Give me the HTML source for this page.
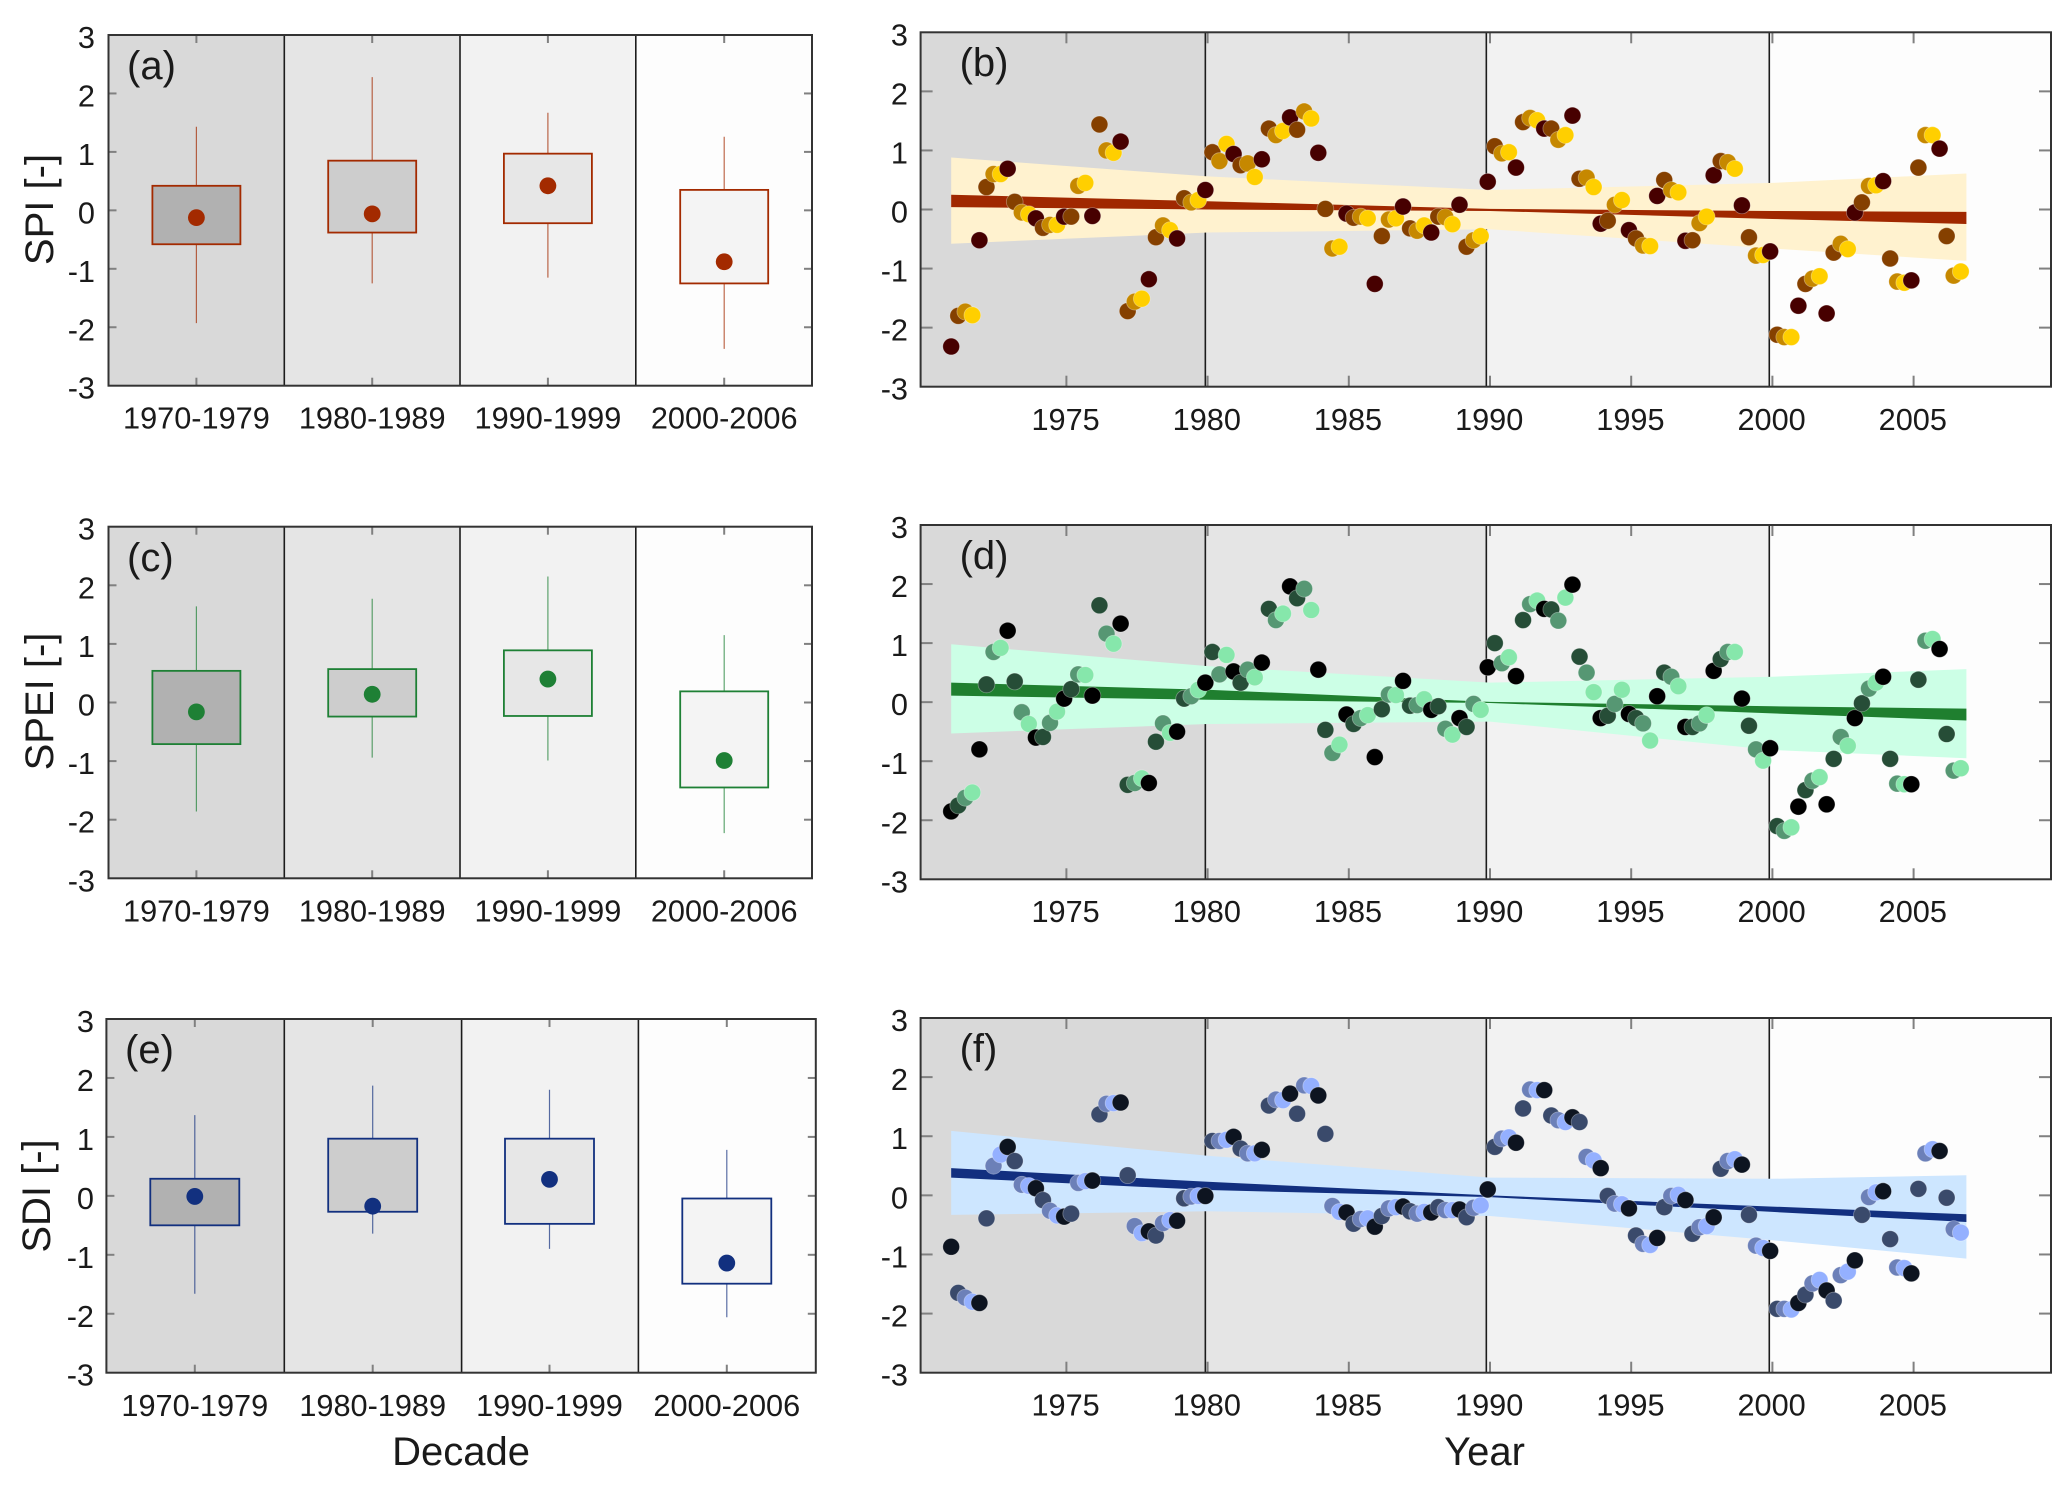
<!DOCTYPE html>
<html lang="en">
<head>
<meta charset="utf-8">
<title>SPI, SPEI and SDI by decade and year</title>
<style>
html,body{margin:0;padding:0;background:#fff;}
svg{display:block;font-family:"Liberation Sans",Arial,sans-serif;}
text{fill:#1a1a1a;}
</style>
</head>
<body>
<svg id="chart" xmlns="http://www.w3.org/2000/svg" width="2067" height="1486" viewBox="0 0 2067 1486"></svg>
<script>
// ---------- shared categories and tick labels ----------
const decadeLabels = ['1970-1979', '1980-1989', '1990-1999', '2000-2006'];
const yTickValues = [3, 2, 1, 0, -1, -2, -3];
const yearTickValues = [1975, 1980, 1985, 1990, 1995, 2000, 2005];
const dividerYears = [1979.92, 1989.87, 1999.89];
const firstSampleYear = 1970.92;
const sampleStepYears = 0.25;
const bandYears = [1970.92, 1980, 1990, 2000, 2006.87];

// ---------- decade box statistics ----------
const spiQ3 = [0.42, 0.85, 0.97, 0.35];
const spiQ1 = [-0.58, -0.38, -0.22, -1.25];
const spiMax = [1.43, 2.28, 1.67, 1.26];
const spiMin = [-1.93, -1.25, -1.15, -2.37];
const spiMean = [-0.125, -0.06, 0.42, -0.88];

const speiQ3 = [0.54, 0.57, 0.89, 0.19];
const speiQ1 = [-0.71, -0.24, -0.23, -1.45];
const speiMax = [1.64, 1.77, 2.15, 1.15];
const speiMin = [-1.86, -0.94, -0.99, -2.23];
const speiMean = [-0.16, 0.14, 0.40, -0.99];

const sdiQ3 = [0.29, 0.97, 0.97, -0.045];
const sdiQ1 = [-0.50, -0.27, -0.475, -1.49];
const sdiMax = [1.37, 1.87, 1.80, 0.78];
const sdiMin = [-1.66, -0.64, -0.90, -2.06];
const sdiMean = [-0.01, -0.175, 0.28, -1.14];

// ---------- quarterly series (four values per year, 1971-2006) ----------
const spiSeries = [
-2.32,-1.80,-1.73,-1.79, -0.52,0.38,0.60,0.60, 0.69,0.13,-0.05,-0.08, -0.15,-0.31,-0.26,-0.26,
-0.12,-0.12,0.40,0.45, -0.11,1.44,1.00,0.96, 1.15,-1.72,-1.56,-1.51, -1.18,-0.47,-0.27,-0.35,
-0.49,0.19,0.12,0.16, 0.33,0.97,0.82,1.11, 0.94,0.75,0.78,0.55, 0.85,1.37,1.26,1.33,
1.56,1.35,1.66,1.54, 0.96,0.01,-0.66,-0.63, -0.07,-0.14,-0.12,-0.15, -1.26,-0.45,-0.17,-0.15,
0.05,-0.32,-0.36,-0.27, -0.39,-0.12,-0.13,-0.25, 0.08,-0.63,-0.52,-0.45, 0.47,1.07,0.95,0.97,
0.71,1.48,1.55,1.51, 1.37,1.37,1.18,1.26, 1.59,0.52,0.54,0.38, -0.24,-0.19,0.08,0.16,
-0.35,-0.49,-0.61,-0.62, 0.23,0.50,0.33,0.29, -0.53,-0.52,-0.23,-0.12, 0.58,0.82,0.80,0.69,
0.07,-0.47,-0.78,-0.77, -0.71,-2.12,-2.16,-2.16, -1.63,-1.26,-1.17,-1.13, -1.76,-0.73,-0.58,-0.67,
-0.05,0.12,0.40,0.41, 0.48,-0.83,-1.22,-1.24, -1.20,0.71,1.26,1.26, 1.03,-0.45,-1.12,-1.05];

const speiSeries = [
-1.85,-1.75,-1.62,-1.53, -0.80,0.30,0.85,0.92, 1.21,0.35,-0.17,-0.37, -0.60,-0.59,-0.35,-0.16,
0.06,0.22,0.47,0.46, 0.11,1.64,1.16,0.99, 1.33,-1.40,-1.37,-1.29, -1.37,-0.67,-0.36,-0.52,
-0.50,0.06,0.10,0.21, 0.33,0.85,0.47,0.80, 0.52,0.33,0.55,0.42, 0.67,1.58,1.39,1.50,
1.96,1.76,1.92,1.56, 0.55,-0.47,-0.86,-0.72, -0.21,-0.37,-0.27,-0.22, -0.93,-0.12,0.13,0.12,
0.36,-0.06,-0.05,0.05, -0.13,-0.07,-0.45,-0.55, -0.27,-0.42,-0.03,-0.13, 0.59,1.00,0.66,0.76,
0.44,1.39,1.66,1.72, 1.58,1.57,1.38,1.77, 1.99,0.77,0.50,0.17, -0.27,-0.23,-0.03,0.21,
-0.20,-0.27,-0.36,-0.65, 0.10,0.50,0.43,0.27, -0.42,-0.42,-0.36,-0.22, 0.53,0.73,0.85,0.85,
0.06,-0.40,-0.80,-0.99, -0.78,-2.10,-2.18,-2.12, -1.77,-1.49,-1.33,-1.27, -1.73,-0.96,-0.59,-0.74,
-0.27,-0.02,0.23,0.33, 0.43,-0.96,-1.38,-1.39, -1.39,0.38,1.04,1.07, 0.90,-0.54,-1.16,-1.12];

const sdiSeries = [
-0.87,-1.65,-1.73,-1.80, -1.82,-0.39,0.50,0.69, 0.82,0.58,0.18,0.16, 0.12,-0.08,-0.26,-0.34,
-0.36,-0.31,0.21,0.24, 0.25,1.37,1.55,1.56, 1.57,0.34,-0.52,-0.64, -0.61,-0.68,-0.47,-0.42,
-0.43,-0.05,-0.02,-0.01, -0.01,0.92,0.92,0.94, 0.99,0.79,0.71,0.71, 0.77,1.52,1.62,1.61,
1.72,1.38,1.86,1.85, 1.69,1.04,-0.18,-0.28, -0.29,-0.48,-0.40,-0.39, -0.53,-0.35,-0.22,-0.20,
-0.19,-0.27,-0.31,-0.28, -0.29,-0.20,-0.25,-0.25, -0.24,-0.37,-0.21,-0.17, 0.10,0.82,0.96,0.98,
0.89,1.47,1.79,1.78, 1.78,1.35,1.27,1.24, 1.32,1.24,0.65,0.59, 0.46,-0.01,-0.14,-0.15,
-0.22,-0.68,-0.82,-0.84, -0.72,-0.20,-0.01,0.01, -0.08,-0.65,-0.54,-0.52, -0.37,0.45,0.58,0.61,
0.52,-0.33,-0.85,-0.89, -0.94,-1.92,-1.92,-1.93, -1.82,-1.68,-1.49,-1.43, -1.61,-1.78,-1.35,-1.29,
-1.10,-0.33,-0.03,0.05, 0.07,-0.74,-1.22,-1.23, -1.32,0.11,0.71,0.78, 0.75,-0.04,-0.57,-0.63];

// ---------- confidence bands and trend envelopes, at bandYears ----------
const spiBandUpper = [0.88, 0.56, 0.33, 0.45, 0.61];
const spiBandLower = [-0.58, -0.39, -0.335, -0.66, -0.87];
const spiTrendUpper = [0.25, 0.14, 0.01, -0.025, -0.04];
const spiTrendLower = [0.04, 0.00, -0.025, -0.16, -0.245];

const speiBandUpper = [0.98, 0.61, 0.33, 0.43, 0.56];
const speiBandLower = [-0.53, -0.37, -0.33, -0.81, -0.95];
const speiTrendUpper = [0.33, 0.21, 0.005, -0.07, -0.11];
const speiTrendLower = [0.11, 0.04, -0.015, -0.19, -0.31];

const sdiBandUpper = [1.09, 0.67, 0.30, 0.28, 0.34];
const sdiBandLower = [-0.33, -0.27, -0.35, -0.76, -1.07];
const sdiTrendUpper = [0.46, 0.23, 0.00, -0.19, -0.32];
const sdiTrendLower = [0.30, 0.09, -0.03, -0.28, -0.45];

// ---------- styling and layout ----------
const shadeColors = ['#d9d9d9', '#e5e5e5', '#f2f2f2', '#fdfdfd'];
const boxFills = ['#b1b1b1', '#cdcdcd', '#e7e7e7', '#f4f4f4'];
const spiSeasonColors = ['#470000', '#854000', '#c68800', '#ffcf00'];
const speiSeasonColors = ['#000000', '#264d37', '#569773', '#86e7ab'];
const sdiSeasonColors = ['#0d1420', '#3a4a6b', '#6c80b8', '#94b0ff'];

const boxPanels = [
  {id:'a', letter:'(a)', name:'spi', left:108.5, right:812, top:35, bottom:385.7, dividers:[284.3,460,635.8],
   centers:[196.4,372.2,547.9,724.2], halfW:44, letterX:127, letterY:79, labelY:428.5, tickRight:95,
   yLabel:'SPI [-]', yLabelX:53, yLabelY:209.5, color:'#a32a00', q3:spiQ3, q1:spiQ1, max:spiMax, min:spiMin, mean:spiMean},
  {id:'c', letter:'(c)', name:'spei', left:108.5, right:812, top:526.7, bottom:878.3, dividers:[284.3,460,635.8],
   centers:[196.4,372.2,547.9,724.2], halfW:44, letterX:127, letterY:571, labelY:921.7, tickRight:95,
   yLabel:'SPEI [-]', yLabelX:53, yLabelY:701.5, color:'#1e8035', q3:speiQ3, q1:speiQ1, max:speiMax, min:speiMin, mean:speiMean},
  {id:'e', letter:'(e)', name:'sdi', left:106.4, right:815.8, top:1019, bottom:1372.7, dividers:[284.3,461.6,638.4],
   centers:[194.8,372.7,549.5,726.8], halfW:44.5, letterX:125, letterY:1063, labelY:1416, tickRight:94,
   yLabel:'SDI [-]', yLabelX:50, yLabelY:1196, color:'#12307f', q3:sdiQ3, q1:sdiQ1, max:sdiMax, min:sdiMin, mean:sdiMean}
];

const seriesPanels = [
  {id:'b', letter:'(b)', name:'spi', top:32.3, bottom:386.7, letterY:76, labelY:430, series:spiSeries, colors:spiSeasonColors,
   band:'#fff2cf', trend:'#a02800', bandUpper:spiBandUpper, bandLower:spiBandLower, trendUpper:spiTrendUpper, trendLower:spiTrendLower},
  {id:'d', letter:'(d)', name:'spei', top:525, bottom:879.3, letterY:569, labelY:922, series:speiSeries, colors:speiSeasonColors,
   band:'#ccffe6', trend:'#1f7f2f', bandUpper:speiBandUpper, bandLower:speiBandLower, trendUpper:speiTrendUpper, trendLower:speiTrendLower},
  {id:'f', letter:'(f)', name:'sdi', top:1018, bottom:1372.7, letterY:1062, labelY:1415.7, series:sdiSeries, colors:sdiSeasonColors,
   band:'#cde6ff', trend:'#122f7f', bandUpper:sdiBandUpper, bandLower:sdiBandLower, trendUpper:sdiTrendUpper, trendLower:sdiTrendLower}
];

const seriesLeft = 920.6;
const seriesRight = 2051;
const NS = 'http://www.w3.org/2000/svg';
const root = document.getElementById('chart');

function make(tag, attrs, parent) {
  const node = document.createElementNS(NS, tag);
  for (const key in attrs) node.setAttribute(key, attrs[key]);
  (parent || root).appendChild(node);
  return node;
}

// ---------- axis functions ----------
function yScale(panel, value) {
  return panel.top + (3 - value) * (panel.bottom - panel.top) / 6;
}
function xYear(year) {
  return 1066.4 + (year - 1975) * 28.24;
}

function drawFrameAndTicks(g, panel, left, right, xTicks, hLen, vLen) {
  for (const v of yTickValues) {
    if (v === 3 || v === -3) continue;
    const y = yScale(panel, v);
    const leftTick = make('line', {x1:left, x2:left + hLen, y1:y, y2:y, stroke:'#808080', 'stroke-width':2}, g);
    
    
    const rightTick = make('line', {x1:right - hLen, x2:right, y1:y, y2:y, stroke:'#808080', 'stroke-width':2}, g);
    
    
  }
  for (const x of xTicks) {
    const topTick = make('line', {x1:x, x2:x, y1:panel.top, y2:panel.top + vLen, stroke:'#808080', 'stroke-width':2}, g);
    
    
    const bottomTick = make('line', {x1:x, x2:x, y1:panel.bottom - vLen, y2:panel.bottom, stroke:'#808080', 'stroke-width':2}, g);
    
    
  }
  const frame = make('rect', {x:left, y:panel.top, width:right - left, height:panel.bottom - panel.top, fill:'none', stroke:'#333333', 'stroke-width':2}, g);
  
  
}

function drawYTickLabels(g, panel, rightEdge) {
  for (const v of yTickValues) {
    const t = make('text', {x:rightEdge, y:yScale(panel, v) + 13, 'text-anchor':'end', 'font-size':30.7}, g);
    t.textContent = String(v);
    
    
  }
}

function drawLetter(g, text, x, y) {
  const t = make('text', {x:x, y:y, 'font-size':40}, g);
  t.textContent = text;
  
  
}

function drawBackground(g, panel, edges, dividers) {
  for (let i = 0; i < shadeColors.length; i++) {
    const r = make('rect', {x:edges[i], y:panel.top, width:edges[i + 1] - edges[i], height:panel.bottom - panel.top, fill:shadeColors[i]}, g);
    
    
  }
  for (const x of dividers) {
    const d = make('line', {x1:x, x2:x, y1:panel.top, y2:panel.bottom, stroke:'#1c1c1c', 'stroke-width':1.6}, g);
    
    
  }
}

// ---------- box panels ----------
for (const p of boxPanels) {
  const g = make('g', {});
  
  
  drawBackground(g, p, [p.left].concat(p.dividers, [p.right]), p.dividers);

  for (let i = 0; i < decadeLabels.length; i++) {
    const cx = p.centers[i];
    const whisker = make('line', {x1:cx, x2:cx, y1:yScale(p, p.max[i]), y2:yScale(p, p.min[i]), stroke:p.color, 'stroke-width':1.2, 'stroke-opacity':0.7}, g);
    
    
    const box = make('rect', {x:cx - p.halfW, y:yScale(p, p.q3[i]), width:2 * p.halfW, height:yScale(p, p.q1[i]) - yScale(p, p.q3[i]), fill:boxFills[i], stroke:p.color, 'stroke-width':1.8}, g);
    
    
    const mean = make('circle', {cx:cx, cy:yScale(p, p.mean[i]), r:8.4, fill:p.color}, g);
    
    
    const label = make('text', {x:cx, y:p.labelY, 'text-anchor':'middle', 'font-size':30.7}, g);
    label.textContent = decadeLabels[i];
    
    
  }

  drawFrameAndTicks(g, p, p.left, p.right, p.centers, 8, 8);
  drawYTickLabels(g, p, p.tickRight);
  drawLetter(g, p.letter, p.letterX, p.letterY);

  const yTitle = make('text', {transform:'translate(' + p.yLabelX + ',' + p.yLabelY + ') rotate(-90)', 'text-anchor':'middle', 'font-size':40}, g);
  yTitle.textContent = p.yLabel;
  
  
}

// ---------- time-series panels ----------
function polygonPoints(panel, upper, lower) {
  const pts = [];
  for (let i = 0; i < bandYears.length; i++) pts.push(xYear(bandYears[i]) + ',' + yScale(panel, upper[i]));
  for (let i = bandYears.length - 1; i >= 0; i--) pts.push(xYear(bandYears[i]) + ',' + yScale(panel, lower[i]));
  return pts.join(' ');
}

for (const p of seriesPanels) {
  const g = make('g', {});
  
  
  const dividerX = dividerYears.map(xYear);
  drawBackground(g, p, [seriesLeft].concat(dividerX, [seriesRight]), dividerX);

  const band = make('polygon', {points:polygonPoints(p, p.bandUpper, p.bandLower), fill:p.band}, g);
  
  
  const trend = make('polygon', {points:polygonPoints(p, p.trendUpper, p.trendLower), fill:p.trend}, g);
  
  

  for (let i = 0; i < p.series.length; i++) {
    const year = firstSampleYear + i * sampleStepYears;
    const dot = make('circle', {cx:xYear(year), cy:yScale(p, p.series[i]), r:8.4, fill:p.colors[i % 4], stroke:'#ffffff', 'stroke-width':0.8, 'stroke-opacity':0.35}, g);
    
    
  }

  drawFrameAndTicks(g, p, seriesLeft, seriesRight, yearTickValues.map(xYear), 12, 11);
  drawYTickLabels(g, p, 908);
  drawLetter(g, p.letter, 959.6, p.letterY);

  for (const yr of yearTickValues) {
    const label = make('text', {x:xYear(yr) - 0.8, y:p.labelY, 'text-anchor':'middle', 'font-size':30.7}, g);
    label.textContent = String(yr);
    
    
  }
}

// ---------- shared x-axis titles ----------
const decadeTitle = make('text', {x:461, y:1465, 'text-anchor':'middle', 'font-size':40});
decadeTitle.textContent = 'Decade';



const yearTitle = make('text', {x:1484.6, y:1465, 'text-anchor':'middle', 'font-size':40});
yearTitle.textContent = 'Year';


</script>
</body>
</html>
